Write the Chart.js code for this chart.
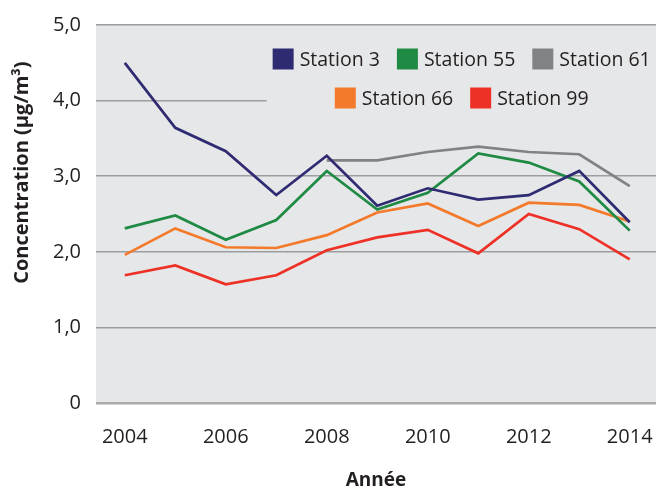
<!DOCTYPE html>
<html>
<head>
<meta charset="utf-8">
<script src="https://cdn.jsdelivr.net/npm/chart.js@4/dist/chart.umd.min.js"></script>
<style>
  html, body { margin: 0; padding: 0; background: #ffffff; }
  #wrap { width: 658px; height: 492px; position: relative; }
</style>
</head>
<body>
<div id="wrap"><canvas id="c" width="658" height="492"></canvas></div>
<script>
// ---- Data ----
const years = [2004, 2005, 2006, 2007, 2008, 2009, 2010, 2011, 2012, 2013, 2014];
const station3  = [4.50, 3.64, 3.33, 2.75, 3.27, 2.61, 2.84, 2.69, 2.75, 3.07, 2.39];
const station55 = [2.31, 2.48, 2.16, 2.42, 3.07, 2.56, 2.78, 3.30, 3.18, 2.93, 2.28];
const station61 = [null, null, null, null, 3.21, 3.21, 3.32, 3.39, 3.32, 3.29, 2.87];
const station66 = [1.96, 2.31, 2.06, 2.05, 2.22, 2.52, 2.64, 2.34, 2.65, 2.62, 2.40];
const station99 = [1.69, 1.82, 1.57, 1.69, 2.02, 2.19, 2.29, 1.98, 2.50, 2.30, 1.90];
const seriesLabels = ['Station 3', 'Station 55', 'Station 61', 'Station 66', 'Station 99'];
const xTickValues = [2004, 2006, 2008, 2010, 2012, 2014];
const xTickLabels = ['2004', '2006', '2008', '2010', '2012', '2014'];
const yTickValues = [0, 1, 2, 3, 4, 5];
const yTickLabels = ['0', '1,0', '2,0', '3,0', '4,0', '5,0'];
const legendRows = [[0, 1, 2], [3, 4]];

// ---- Styles ----
const colors = ['#2e2b72', '#1f8a44', '#808285', '#f47a2b', '#ee3126'];
const plotBg = '#e6e7e8';
const gridColor = '#9c9d9f';
const textColor = '#231f20';
const FONT = '"Open Sans", "DejaVu Sans", sans-serif';

const toXY = (arr) => arr.map((v, i) => ({ x: years[i], y: v }));
const seriesData = [station3, station55, station61, station66, station99];

const plotBackground = {
  id: 'plotBackground',
  beforeDraw(chart) {
    const { ctx, chartArea: ca } = chart;
    ctx.save();
    ctx.fillStyle = plotBg;
    ctx.fillRect(ca.left, ca.top, ca.right - ca.left, ca.bottom - ca.top);
    ctx.restore();
  }
};

const boxLegend = {
  id: 'boxLegend',
  beforeDatasetsDraw(chart) {
    const { ctx, chartArea: ca } = chart;
    const box = 21, gap = 6, itemGap = 17, rowStep = 39;
    ctx.save();
    ctx.font = '19.5px ' + FONT;
    const rows = legendRows.map(r => r.map(i => {
      const ds = chart.data.datasets[i];
      const tw = ctx.measureText(ds.label).width;
      return { ds, tw, w: box + gap + tw };
    }));
    const widths = rows.map(r => r.reduce((s, it) => s + it.w, 0) + itemGap * (r.length - 1));
    const centerX = ca.left + (ca.right - ca.left) * 0.653;
    const firstY = ca.top + 34;
    const left = Math.min(...widths.map(w => centerX - w / 2)) - 6;
    ctx.fillStyle = plotBg;
    ctx.fillRect(left, ca.top + 12, ca.right - left, rowStep * rows.length + 6);
    rows.forEach((r, ri) => {
      let x = centerX - widths[ri] / 2;
      const cy = firstY + ri * rowStep;
      r.forEach(it => {
        ctx.fillStyle = it.ds.borderColor;
        ctx.fillRect(x, cy - box / 2, box, box);
        ctx.fillStyle = textColor;
        ctx.textBaseline = 'middle';
        ctx.textAlign = 'left';
        ctx.fillText(it.ds.label, x + box + gap, cy + 1);
        x += it.w + itemGap;
      });
    });
    ctx.restore();
  }
};

new Chart(document.getElementById('c'), {
  type: 'line',
  data: {
    datasets: seriesData.map((arr, i) => ({
      label: seriesLabels[i],
      data: toXY(arr),
      borderColor: colors[i],
      backgroundColor: colors[i],
      borderWidth: 2.7,
      pointRadius: 0,
      tension: 0,
      fill: false,
      spanGaps: false
    }))
  },
  options: {
    responsive: false,
    animation: false,
    layout: { padding: { top: 25, right: 2, left: 0, bottom: 0 } },
    plugins: {
      legend: { display: false },
      tooltip: { enabled: false }
    },
    scales: {
      x: {
        type: 'linear',
        min: 2003.43,
        max: 2014.52,
        afterFit(scale) { scale.height = 89; scale.paddingLeft = 0; scale.paddingRight = 0; },
        afterBuildTicks(scale) { scale.ticks = xTickValues.map(v => ({ value: v })); },
        grid: { display: false, drawTicks: false },
        border: { display: false },
        ticks: {
          padding: 22,
          autoSkip: false,
          maxRotation: 0,
          color: textColor,
          font: { family: FONT, size: 20 },
          callback: (v) => xTickLabels[xTickValues.indexOf(v)]
        },
        title: {
          display: true,
          text: 'Année',
          color: textColor,
          font: { family: FONT, size: 19, weight: 'bold' },
          padding: { top: 0, bottom: 0 }
        }
      },
      y: {
        type: 'linear',
        min: 0,
        max: 5,
        afterFit(scale) { scale.width = 96; scale.paddingTop = 0; scale.paddingBottom = 0; },
        afterBuildTicks(scale) { scale.ticks = yTickValues.map(v => ({ value: v })); },
        grid: {
          drawTicks: false,
          color: (c) => (c.tick && c.tick.value === 0) ? '#a9aaac' : gridColor,
          lineWidth: (c) => (c.tick && c.tick.value === 0) ? 2.4 : 1.5
        },
        border: { display: false },
        ticks: {
          padding: 15,
          color: textColor,
          font: { family: FONT, size: 20 },
          callback: (v) => yTickLabels[yTickValues.indexOf(v)]
        },
        title: {
          display: true,
          align: 'end',
          text: 'Concentration (µg/m³)       ',
          color: textColor,
          font: { family: FONT, size: 20, weight: 'bold' },
          padding: { top: 10, bottom: 0 }
        }
      }
    }
  },
  plugins: [plotBackground, boxLegend]
});
</script>
</body>
</html>
